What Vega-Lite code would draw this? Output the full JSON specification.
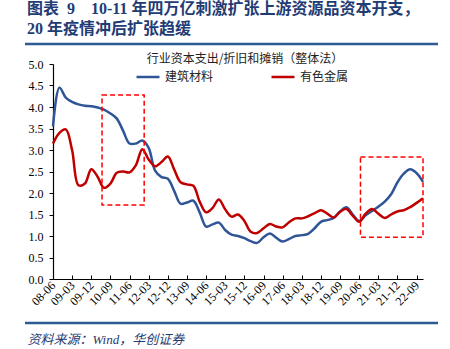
{
  "$schema": "https://vega.github.io/schema/vega-lite/v6.json",
  "width": 370,
  "height": 215,
  "autosize": "none",
  "padding": {"left": 53, "top": 64, "right": 27, "bottom": 70},
  "background": "white",
  "title": {
    "text": ["图表\u00a0\u00a09\u00a0\u00a0\u00a0\u00a010-11 年四万亿刺激扩张上游资源品资本开支，", "20 年疫情冲后扩张趋缓"],
    "anchor": "start",
    "frame": "group",
    "dx": -26,
    "dy": 20,
    "font": "Liberation Serif, Noto Sans CJK SC",
    "fontSize": 16,
    "fontWeight": "bold",
    "color": "#1F3C74",
    "lineHeight": 20,
    "offset": 26
  },
  "config": {
    "view": {"stroke": null},
    "font": "Liberation Serif, Noto Sans CJK SC",
    "axis": {"labelOverlap": false}
  },
  "datasets": {
    "series": [
      {"date": "2008/06/01", "建筑材料": 3.55, "有色金属": 3.15},
      {"date": "2008/09/01", "建筑材料": 4.45, "有色金属": 3.40},
      {"date": "2008/12/01", "建筑材料": 4.22, "有色金属": 3.48},
      {"date": "2009/03/01", "建筑材料": 4.12, "有色金属": 3.00},
      {"date": "2009/06/01", "建筑材料": 4.06, "有色金属": 2.18},
      {"date": "2009/09/01", "建筑材料": 4.03, "有色金属": 2.22},
      {"date": "2009/12/01", "建筑材料": 4.02, "有色金属": 2.55},
      {"date": "2010/03/01", "建筑材料": 3.99, "有色金属": 2.38},
      {"date": "2010/06/01", "建筑材料": 3.94, "有色金属": 2.12},
      {"date": "2010/09/01", "建筑材料": 3.85, "有色金属": 2.22},
      {"date": "2010/12/01", "建筑材料": 3.73, "有色金属": 2.47},
      {"date": "2011/03/01", "建筑材料": 3.45, "有色金属": 2.50},
      {"date": "2011/06/01", "建筑材料": 3.15, "有色金属": 2.48},
      {"date": "2011/09/01", "建筑材料": 3.15, "有色金属": 2.65},
      {"date": "2011/12/01", "建筑材料": 3.22, "有色金属": 3.02},
      {"date": "2012/03/01", "建筑材料": 3.05, "有色金属": 2.78},
      {"date": "2012/06/01", "建筑材料": 2.52, "有色金属": 2.62},
      {"date": "2012/09/01", "建筑材料": 2.37, "有色金属": 2.72},
      {"date": "2012/12/01", "建筑材料": 2.33, "有色金属": 2.85},
      {"date": "2013/03/01", "建筑材料": 2.05, "有色金属": 2.55},
      {"date": "2013/06/01", "建筑材料": 1.75, "有色金属": 2.25},
      {"date": "2013/09/01", "建筑材料": 1.78, "有色金属": 2.20},
      {"date": "2013/12/01", "建筑材料": 1.82, "有色金属": 2.17},
      {"date": "2014/03/01", "建筑材料": 1.55, "有色金属": 1.80},
      {"date": "2014/06/01", "建筑材料": 1.22, "有色金属": 1.55},
      {"date": "2014/09/01", "建筑材料": 1.27, "有色金属": 1.65},
      {"date": "2014/12/01", "建筑材料": 1.31, "有色金属": 1.85},
      {"date": "2015/03/01", "建筑材料": 1.14, "有色金属": 1.62},
      {"date": "2015/06/01", "建筑材料": 1.03, "有色金属": 1.45},
      {"date": "2015/09/01", "建筑材料": 1.00, "有色金属": 1.50},
      {"date": "2015/12/01", "建筑材料": 0.95, "有色金属": 1.35},
      {"date": "2016/03/01", "建筑材料": 0.88, "有色金属": 1.10},
      {"date": "2016/06/01", "建筑材料": 0.84, "有色金属": 1.07},
      {"date": "2016/09/01", "建筑材料": 0.97, "有色金属": 1.18},
      {"date": "2016/12/01", "建筑材料": 1.06, "有色金属": 1.28},
      {"date": "2017/03/01", "建筑材料": 0.96, "有色金属": 1.22},
      {"date": "2017/06/01", "建筑材料": 0.87, "有色金属": 1.20},
      {"date": "2017/09/01", "建筑材料": 0.93, "有色金属": 1.32},
      {"date": "2017/12/01", "建筑材料": 1.00, "有色金属": 1.41},
      {"date": "2018/03/01", "建筑材料": 1.02, "有色金属": 1.41},
      {"date": "2018/06/01", "建筑材料": 1.05, "有色金属": 1.46},
      {"date": "2018/09/01", "建筑材料": 1.18, "有色金属": 1.53},
      {"date": "2018/12/01", "建筑材料": 1.33, "有色金属": 1.60},
      {"date": "2019/03/01", "建筑材料": 1.37, "有色金属": 1.52},
      {"date": "2019/06/01", "建筑材料": 1.42, "有色金属": 1.43},
      {"date": "2019/09/01", "建筑材料": 1.57, "有色金属": 1.56},
      {"date": "2019/12/01", "建筑材料": 1.67, "有色金属": 1.63},
      {"date": "2020/03/01", "建筑材料": 1.50, "有色金属": 1.47},
      {"date": "2020/06/01", "建筑材料": 1.35, "有色金属": 1.33},
      {"date": "2020/09/01", "建筑材料": 1.48, "有色金属": 1.52},
      {"date": "2020/12/01", "建筑材料": 1.58, "有色金属": 1.63},
      {"date": "2021/03/01", "建筑材料": 1.68, "有色金属": 1.52},
      {"date": "2021/06/01", "建筑材料": 1.80, "有色金属": 1.42},
      {"date": "2021/09/01", "建筑材料": 1.97, "有色金属": 1.50},
      {"date": "2021/12/01", "建筑材料": 2.25, "有色金属": 1.57},
      {"date": "2022/03/01", "建筑材料": 2.45, "有色金属": 1.60},
      {"date": "2022/06/01", "建筑材料": 2.55, "有色金属": 1.67},
      {"date": "2022/09/01", "建筑材料": 2.46, "有色金属": 1.77},
      {"date": "2022/12/01", "建筑材料": 2.26, "有色金属": 1.88}
    ],
    "boxes": [
      {"start": "2010/05/04", "end": "2011/12/28", "low": 1.72, "high": 4.28},
      {"start": "2020/06/19", "end": "2022/12/01", "low": 0.97, "high": 2.84}
    ]
  },
  "layer": [
    {
      "data": {"name": "series"},
      "transform": [{"fold": ["建筑材料", "有色金属"], "as": ["series", "value"]}],
      "mark": {"type": "line", "interpolate": "catmull-rom", "strokeWidth": 2.5},
      "encoding": {
        "x": {
          "field": "date",
          "type": "temporal",
          "scale": {"domain": [{"year": 2008, "month": 6, "date": 1}, {"year": 2022, "month": 12, "date": 1}], "nice": false},
          "axis": {
            "values": [
              {"year": 2008, "month": 6, "date": 1}, {"year": 2009, "month": 3, "date": 1}, {"year": 2009, "month": 12, "date": 1},
              {"year": 2010, "month": 9, "date": 1}, {"year": 2011, "month": 6, "date": 1}, {"year": 2012, "month": 3, "date": 1},
              {"year": 2012, "month": 12, "date": 1}, {"year": 2013, "month": 9, "date": 1}, {"year": 2014, "month": 6, "date": 1},
              {"year": 2015, "month": 3, "date": 1}, {"year": 2015, "month": 12, "date": 1}, {"year": 2016, "month": 9, "date": 1},
              {"year": 2017, "month": 6, "date": 1}, {"year": 2018, "month": 3, "date": 1}, {"year": 2018, "month": 12, "date": 1},
              {"year": 2019, "month": 9, "date": 1}, {"year": 2020, "month": 6, "date": 1}, {"year": 2021, "month": 3, "date": 1},
              {"year": 2021, "month": 12, "date": 1}, {"year": 2022, "month": 9, "date": 1}
            ],
            "tickCount": 30,
            "format": "%y-%m",
            "labelAngle": -45,
            "labelAlign": "right",
            "labelBaseline": "middle",
            "labelFont": "Liberation Serif",
            "labelFontSize": 12,
            "labelColor": "#000000",
            "labelPadding": 8,
            "labelFlush": false,
            "labelOverlap": false,
            "domainColor": "#000000",
            "domainWidth": 1.2,
            "tickColor": "#000000",
            "tickSize": -4,
            "grid": false,
            "title": "资料来源：Wind，华创证券",
            "titleFont": "Liberation Serif, Noto Sans CJK SC",
            "titleFontSize": 13,
            "titleFontStyle": "italic",
            "titleFontWeight": "normal",
            "titleColor": "#1F3C74",
            "titleAnchor": "start",
            "titleAlign": "left",
            "titleBaseline": "alphabetic",
            "titleX": -26,
            "titleY": 64
          }
        },
        "y": {
          "field": "value",
          "type": "quantitative",
          "scale": {"domain": [0, 5], "nice": false},
          "axis": {
            "values": [0, 0.5, 1, 1.5, 2, 2.5, 3, 3.5, 4, 4.5, 5],
            "tickCount": 15,
            "format": ".1f",
            "labelFont": "Liberation Serif",
            "labelFontSize": 12,
            "labelColor": "#000000",
            "labelPadding": 6,
            "domainColor": "#000000",
            "domainWidth": 1.2,
            "tickColor": "#000000",
            "tickSize": 4,
            "grid": false,
            "title": null
          }
        },
        "color": {
          "field": "series",
          "type": "nominal",
          "scale": {"domain": ["建筑材料", "有色金属"], "range": ["#2F5597", "#C00000"]},
          "legend": {
            "orient": "none",
            "legendX": 88,
            "legendY": -10,
            "direction": "horizontal",
            "title": "行业资本支出/折旧和摊销（整体法）",
            "titleFont": "Noto Sans CJK SC",
            "titleFontSize": 12,
            "titleFontWeight": "normal",
            "titleColor": "#222222",
            "titleAnchor": "middle",
            "titleLimit": 400,
            "titlePadding": 4,
            "symbolType": "M-2,0H2",
            "symbolSize": 132,
            "symbolStrokeWidth": 2.5,
            "labelFont": "Noto Sans CJK SC",
            "labelFontSize": 12,
            "labelColor": "#222222",
            "labelOffset": 10,
            "columnPadding": 52
          }
        }
      }
    },
    {
      "data": {"name": "boxes"},
      "mark": {"type": "rect", "fill": null, "fillOpacity": 0, "stroke": "#FF0000", "strokeWidth": 1.5, "strokeDash": [5, 3]},
      "encoding": {
        "x": {"field": "start", "type": "temporal"},
        "x2": {"field": "end"},
        "y": {"field": "low", "type": "quantitative"},
        "y2": {"field": "high"}
      }
    },
    {
      "data": {"values": [{"rule": "top"}]},
      "mark": {"type": "rule", "stroke": "#2E5A94", "strokeWidth": 2.5},
      "encoding": {"x": {"value": -28}, "x2": {"value": 385}, "y": {"value": -20}}
    },
    {
      "data": {"values": [{"rule": "bottom"}]},
      "mark": {"type": "rule", "stroke": "#2E5A94", "strokeWidth": 2.5},
      "encoding": {"x": {"value": -28}, "x2": {"value": 385}, "y": {"value": 259}}
    }
  ]
}
